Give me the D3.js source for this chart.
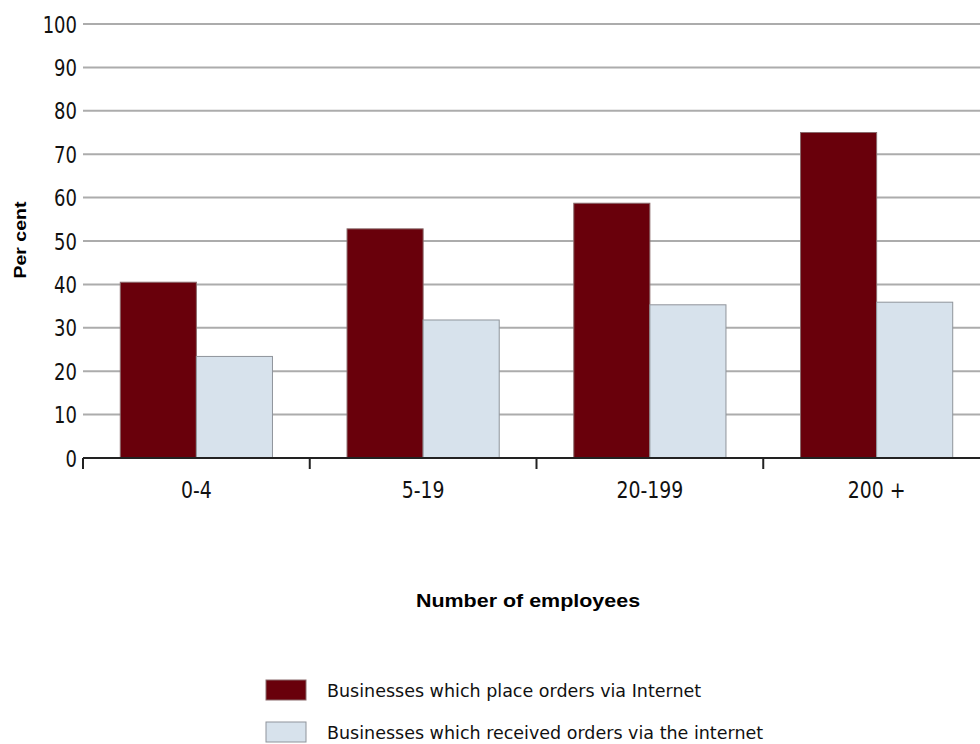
<!DOCTYPE html>
<html>
<head>
<meta charset="utf-8">
<script src="https://cdn.jsdelivr.net/npm/d3@7"></script>
<style>
  html, body { margin: 0; padding: 0; background: #fff; }
  svg { display: block; }
</style>
</head>
<body>
<svg id="chart" width="980" height="744"></svg>
<script>
// Share of businesses using the internet for orders, by size band
const categories = ["0-4", "5-19", "20-199", "200 +"];
const seriesNames = [
  "Businesses which place orders via Internet",
  "Businesses which received orders via the internet"
];
const placedOrders = [40.5, 52.8, 58.7, 75.0];
const receivedOrders = [23.4, 31.8, 35.3, 35.9];
const yTicks = [0, 10, 20, 30, 40, 50, 60, 70, 80, 90, 100];

const colors = ["#69000b", "#d7e2ec"];
const strokes = ["#8a6a6c", "#8f949b"];
const seriesValues = [placedOrders, receivedOrders];

const svg = d3.select("#chart");
const tickFont = "'DejaVu Sans Condensed', 'DejaVu Sans', Verdana, sans-serif";
const legendFont = "'DejaVu Sans', Verdana, sans-serif";
const titleFont = "'Liberation Sans', Arial, sans-serif";

const plot = { left: 83, right: 990, top: 24, bottom: 458 };

const x0 = d3.scaleBand().domain(categories).range([plot.left, plot.right]).padding(0);
const x1 = d3.scaleBand().domain(d3.range(seriesNames.length))
  .range([0, x0.bandwidth()]).paddingInner(0).paddingOuter(0.49);
const y = d3.scaleLinear().domain([0, 100]).range([plot.bottom, plot.top]);

// horizontal gridlines
svg.append("g")
  .selectAll("line")
  .data(yTicks.filter(t => t > 0))
  .join("line")
  .attr("x1", plot.left).attr("x2", 980)
  .attr("y1", d => y(d)).attr("y2", d => y(d))
  .attr("stroke", "#acacac")
  .attr("stroke-width", 2);

// y tick labels
svg.append("g")
  .selectAll("text")
  .data(yTicks)
  .join("text")
  .attr("transform", d => `translate(77,${y(d) + 8.5}) scale(1,1.12)`)
  .attr("text-anchor", "end")
  .attr("font-family", tickFont)
  .attr("font-size", 20)
  .attr("fill", "#111")
  .text(d => d);

// bars
const groups = svg.append("g")
  .selectAll("g")
  .data(categories)
  .join("g")
  .attr("transform", d => `translate(${x0(d)},0)`);

groups.selectAll("rect")
  .data((c, i) => seriesValues.map((vals, s) => ({ s, v: vals[i] })))
  .join("rect")
  .attr("x", d => x1(d.s))
  .attr("width", x1.bandwidth())
  .attr("y", d => y(d.v))
  .attr("height", d => y(0) - y(d.v))
  .attr("fill", d => colors[d.s])
  .attr("stroke", d => strokes[d.s])
  .attr("stroke-width", 1);

// x axis
const xAxis = d3.axisBottom(x0).tickSize(0).tickFormat("");
const gx = svg.append("g").attr("transform", `translate(0,${plot.bottom})`).call(xAxis);
gx.select(".domain").remove();
gx.append("line")
  .attr("x1", plot.left).attr("x2", 980)
  .attr("y1", 0).attr("y2", 0)
  .attr("stroke", "#222").attr("stroke-width", 2);
gx.selectAll(".sep")
  .data(categories)
  .join("line")
  .attr("class", "sep")
  .attr("x1", d => x0(d)).attr("x2", d => x0(d))
  .attr("y1", 0).attr("y2", 11)
  .attr("stroke", "#222").attr("stroke-width", 2);

// category labels
svg.append("g")
  .selectAll("text")
  .data(categories)
  .join("text")
  .attr("transform", d => `translate(${x0(d) + x0.bandwidth() / 2},498) scale(1.05,1.12)`)
  .attr("text-anchor", "middle")
  .attr("font-family", tickFont)
  .attr("font-size", 20)
  .attr("fill", "#111")
  .text(d => d);

// axis titles
svg.append("text")
  .attr("transform", "translate(26,240) rotate(-90) scale(1.15,1)")
  .attr("text-anchor", "middle")
  .attr("font-family", titleFont)
  .attr("font-weight", "bold")
  .attr("font-size", 17)
  .attr("fill", "#000")
  .text("Per cent");

svg.append("text")
  .attr("transform", "translate(528,607) scale(1.13,1)")
  .attr("text-anchor", "middle")
  .attr("font-family", titleFont)
  .attr("font-weight", "bold")
  .attr("font-size", 19)
  .attr("fill", "#000")
  .text("Number of employees");

// legend
const legend = svg.append("g")
  .selectAll("g")
  .data(seriesNames)
  .join("g")
  .attr("transform", (d, i) => `translate(266,${680 + i * 42})`);

legend.append("rect")
  .attr("width", 40).attr("height", 20)
  .attr("fill", (d, i) => colors[i])
  .attr("stroke", (d, i) => strokes[i])
  .attr("stroke-width", 1);

legend.append("text")
  .attr("x", 61).attr("y", 16.5)
  .attr("font-family", legendFont)
  .attr("font-size", 17.5)
  .attr("fill", "#111")
  .text(d => d);
</script>
</body>
</html>
